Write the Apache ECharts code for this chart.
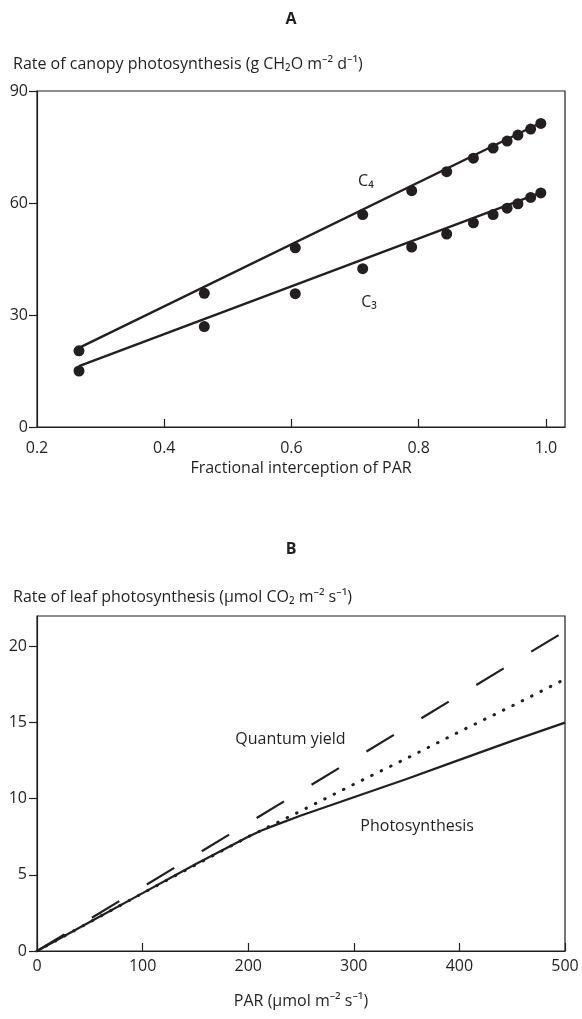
<!DOCTYPE html>
<html>
<head>
<meta charset="utf-8">
<script src="https://cdn.jsdelivr.net/npm/echarts@6/dist/echarts.min.js"></script>
<style>
html,body{margin:0;padding:0;background:#fff;}
#chart{width:582px;height:1019px;}
</style>
</head>
<body>
<div id="chart"></div>
<script>
// ---- Panel A data: fractional interception of PAR vs canopy photosynthesis ----
const fracPAR = [0.266, 0.463, 0.606, 0.712, 0.789, 0.844, 0.886, 0.917, 0.939, 0.956, 0.976, 0.992];
const c4Obs = [20.4, 35.8, 48.0, 56.9, 63.3, 68.4, 72.0, 74.7, 76.6, 78.2, 79.8, 81.3];
const c3Obs = [15.0, 26.9, 35.7, 42.4, 48.2, 51.7, 54.7, 56.9, 58.6, 59.8, 61.5, 62.7];
const c4FitX = [0.266, 0.992];
const c4FitY = [21.2, 81.5];
const c3FitX = [0.266, 0.992];
const c3FitY = [16.3, 62.8];
const xTicksA = [0.2, 0.4, 0.6, 0.8, 1.0];
const yTicksA = [0, 30, 60, 90];

// ---- Panel B data: PAR vs leaf photosynthesis ----
const parQY = [0, 500];
const quantumYield = [0, 21.0];
const parPot = [0, 100, 200, 250, 300, 350, 400, 450, 500];
const potential = [0, 3.8, 7.5, 9.2, 10.95, 12.65, 14.4, 16.1, 17.85];
const parPhoto = [0, 50, 100, 150, 200, 212, 225, 250, 300, 350, 400, 450, 500];
const photosynthesis = [0, 1.9, 3.8, 5.7, 7.5, 7.9, 8.25, 8.9, 10.1, 11.3, 12.55, 13.8, 15.0];
const xTicksB = [0, 100, 200, 300, 400, 500];
const yTicksB = [0, 5, 10, 15, 20];

// annotation anchors (data units)
const labelC4 = [0.717, 65.7];
const labelC3 = [0.722, 33.3];
const labelQY = [240, 13.9];
const labelPS = [360, 8.2];

const INK = '#231f20';
const FONT = '"Open Sans", "Noto Sans", sans-serif';
const FS = 16;
const zip = (xs, ys) => xs.map((x, i) => [x, ys[i]]);

const chart = echarts.init(document.getElementById('chart'), null, {renderer: 'canvas'});

function axisCommon() {
  return {
    axisLine: {show: true, lineStyle: {color: INK, width: 1.2}},
    splitLine: {show: false}
  };
}

function textLabelSeries(gi, pos, text) {
  return {
    type: 'scatter', xAxisIndex: gi, yAxisIndex: gi, silent: true,
    symbolSize: 0, data: [pos], z: 10,
    itemStyle: {color: 'transparent', opacity: 1},
    label: {show: true, position: 'inside', formatter: text, color: INK, opacity: 1, fontSize: FS, fontFamily: FONT}
  };
}

const option = {
  backgroundColor: '#fff',
  animation: false,
  title: [
    {text: 'A', left: 'center', top: 6, textStyle: {fontSize: FS, fontWeight: 'bold', color: INK, fontFamily: FONT}},
    {text: 'Rate of canopy photosynthesis (g CH₂O m⁻² d⁻¹)', left: 8, top: 51, textStyle: {fontSize: FS, fontWeight: 'normal', color: INK, fontFamily: FONT}},
    {text: 'B', left: 'center', top: 536, textStyle: {fontSize: FS, fontWeight: 'bold', color: INK, fontFamily: FONT}},
    {text: 'Rate of leaf photosynthesis (μmol CO₂ m⁻² s⁻¹)', left: 8, top: 584, textStyle: {fontSize: FS, fontWeight: 'normal', color: INK, fontFamily: FONT}}
  ],
  grid: [
    {left: 37, right: 17, top: 91, height: 336, show: true, borderColor: INK, borderWidth: 1.2, backgroundColor: 'transparent'},
    {left: 37, right: 17, top: 616, height: 335, show: true, borderColor: INK, borderWidth: 1.2, backgroundColor: 'transparent'}
  ],
  xAxis: [
    Object.assign(axisCommon(), {
      gridIndex: 0, type: 'value', min: 0.2, max: 1.03, interval: 0.2,
      name: 'Fractional interception of PAR', nameLocation: 'middle', nameGap: 33,
      nameTextStyle: {color: INK, fontSize: FS, fontFamily: FONT},
      axisTick: {show: true, inside: true, length: 8, lineStyle: {color: INK, width: 1.2}, customValues: [0.4, 0.6, 0.8, 1.0]},
      axisLabel: {color: INK, fontSize: FS, fontFamily: FONT, margin: 13, customValues: xTicksA, formatter: v => v.toFixed(1)}
    }),
    Object.assign(axisCommon(), {
      gridIndex: 1, type: 'value', min: 0, max: 500, interval: 100,
      name: 'PAR (μmol m⁻² s⁻¹)', nameLocation: 'middle', nameGap: 42,
      nameTextStyle: {color: INK, fontSize: FS, fontFamily: FONT},
      axisTick: {show: true, inside: true, length: 8, lineStyle: {color: INK, width: 1.2}, customValues: xTicksB},
      axisLabel: {color: INK, fontSize: FS, fontFamily: FONT, margin: 7, customValues: xTicksB}
    })
  ],
  yAxis: [
    Object.assign(axisCommon(), {
      gridIndex: 0, type: 'value', min: 0, max: 90, interval: 30,
      axisTick: {show: true, inside: false, length: 8, lineStyle: {color: INK, width: 1.2}, customValues: yTicksA},
      axisLabel: {color: INK, fontSize: FS, fontFamily: FONT, margin: 9, customValues: yTicksA}
    }),
    Object.assign(axisCommon(), {
      gridIndex: 1, type: 'value', min: 0, max: 22, interval: 5,
      axisTick: {show: true, inside: false, length: 8, lineStyle: {color: INK, width: 1.2}, customValues: yTicksB},
      axisLabel: {color: INK, fontSize: FS, fontFamily: FONT, margin: 10, customValues: yTicksB}
    })
  ],
  series: [
    {name: 'C4 fit', type: 'line', xAxisIndex: 0, yAxisIndex: 0, data: zip(c4FitX, c4FitY), showSymbol: false, silent: true,
     lineStyle: {color: INK, width: 2.4}},
    {name: 'C3 fit', type: 'line', xAxisIndex: 0, yAxisIndex: 0, data: zip(c3FitX, c3FitY), showSymbol: false, silent: true,
     lineStyle: {color: INK, width: 2.4}},
    {name: 'C4', type: 'scatter', xAxisIndex: 0, yAxisIndex: 0, data: zip(fracPAR, c4Obs), symbol: 'circle', symbolSize: 11,
     itemStyle: {color: INK, opacity: 1}},
    {name: 'C3', type: 'scatter', xAxisIndex: 0, yAxisIndex: 0, data: zip(fracPAR, c3Obs), symbol: 'circle', symbolSize: 11,
     itemStyle: {color: INK, opacity: 1}},
    textLabelSeries(0, labelC4, 'C₄'),
    textLabelSeries(0, labelC3, 'C₃'),
    {name: 'Quantum yield', type: 'line', xAxisIndex: 1, yAxisIndex: 1, data: zip(parQY, quantumYield), showSymbol: false, silent: true,
     lineStyle: {color: INK, width: 2.2, type: [32, 32.2]}},
    {name: 'Potential', type: 'line', xAxisIndex: 1, yAxisIndex: 1, data: zip(parPot, potential), showSymbol: false, silent: true,
     lineStyle: {color: INK, width: 3, type: [0.5, 10], cap: 'round'}},
    {name: 'Photosynthesis', type: 'line', xAxisIndex: 1, yAxisIndex: 1, data: zip(parPhoto, photosynthesis), showSymbol: false, silent: true,
     lineStyle: {color: INK, width: 2.2}},
    textLabelSeries(1, labelQY, 'Quantum yield'),
    textLabelSeries(1, labelPS, 'Photosynthesis')
  ]
};
chart.setOption(option);
</script>
</body>
</html>
